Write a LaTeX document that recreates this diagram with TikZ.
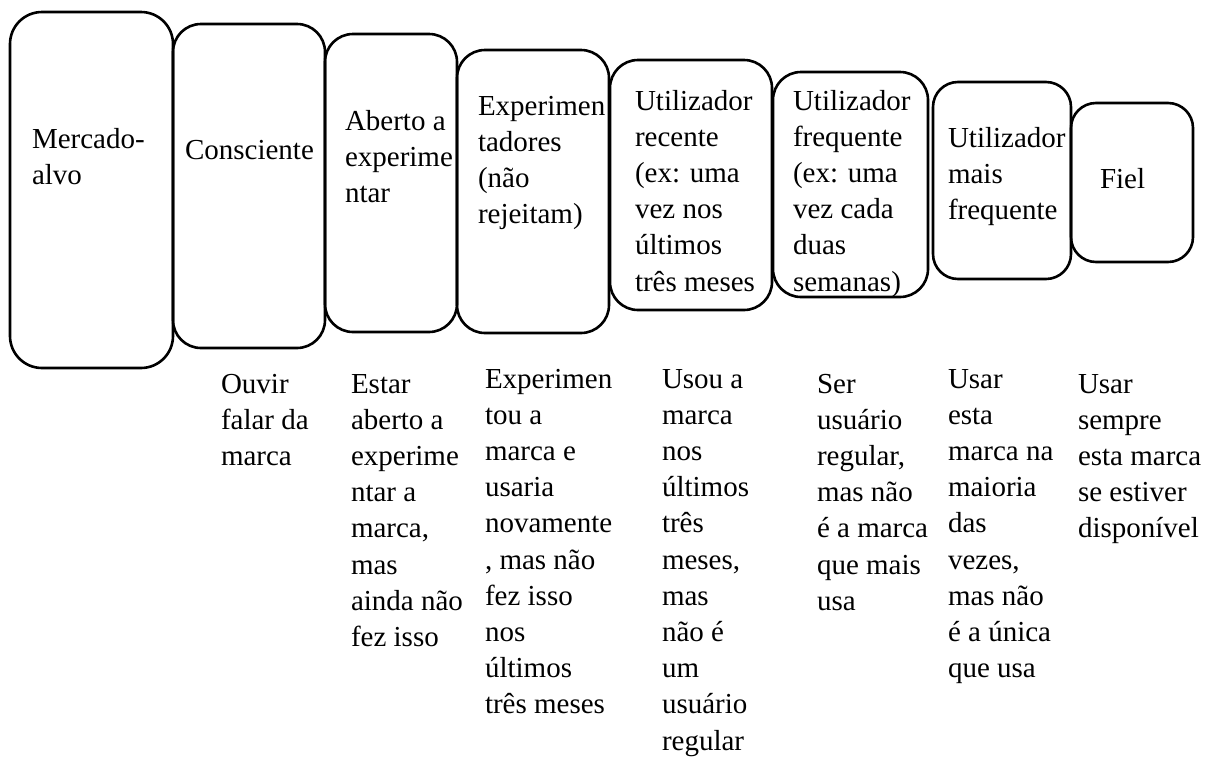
\documentclass[tikz,border=0pt]{standalone}
\usepackage{fontspec}
\setmainfont{Liberation Serif}
\begin{document}
\begin{tikzpicture}[x=1pt,y=-1pt,
  box/.style={draw=black, line width=2.6pt, rounded corners=28pt, inner sep=0pt, outer sep=0pt},
  txt/.style={anchor=base west, inner sep=0pt, outer sep=0pt, text width=220pt, align=flush left,
    font=\fontsize{29}{36.2}\selectfont}]
\useasboundingbox (0,0) rectangle (1214,758);
% boxes
\node[box, rounded corners=32pt, minimum width=163pt, minimum height=356pt] (b1) at (91.5,190) {};
\node[box, minimum width=152pt, minimum height=324pt] (b2) at (249,186) {};
\node[box, minimum width=132pt, minimum height=298pt] (b3) at (391,183) {};
\node[box, minimum width=152pt, minimum height=283pt] (b4) at (533,191.5) {};
\node[box, minimum width=162pt, minimum height=250pt] (b5) at (691,185) {};
\node[box, minimum width=155pt, minimum height=225pt] (b6) at (850.5,184.5) {};
\node[box, rounded corners=25pt, minimum width=138pt, minimum height=197pt] (b7) at (1002,180.5) {};
\node[box, rounded corners=25pt, minimum width=122pt, minimum height=159pt] (b8) at (1132,182.5) {};
% box texts
\node[txt] (t1) at (32,148) {Mercado-\\alvo};
\node[txt] (t2) at (185,159) {Consciente};
\node[txt] (t3) at (345,130) {Aberto a\\experime\\ntar};
\node[txt] (t4) at (478,115) {Experimen\\tadores\\(não\\rejeitam)};
\node[txt] (t5) at (635,110) {Utilizador\\recente\\(ex: uma\\vez nos\\últimos\\três meses};
\node[txt] (t6) at (793,110) {Utilizador\\frequente\\(ex: uma\\vez cada\\duas\\semanas)};
\node[txt] (t7) at (948,147) {Utilizador\\mais\\frequente};
\node[txt] (t8) at (1100,188) {Fiel};
% descriptions
\node[txt] (d2) at (221,393) {Ouvir\\falar da\\marca};
\node[txt] (d3) at (351,393) {Estar\\aberto a\\experime\\ntar a\\marca,\\mas\\ainda não\\fez isso};
\node[txt] (d4) at (485,388) {Experimen\\tou a\\marca e\\usaria\\novamente\\, mas não\\fez isso\\nos\\últimos\\três meses};
\node[txt] (d5) at (662,388) {Usou a\\marca\\nos\\últimos\\três\\meses,\\mas\\não é\\um\\usuário\\regular};
\node[txt] (d6) at (817,393) {Ser\\usuário\\regular,\\mas não\\é a marca\\que mais\\usa};
\node[txt] (d7) at (948,388) {Usar\\esta\\marca na\\maioria\\das\\vezes,\\mas não\\é a única\\que usa};
\node[txt] (d8) at (1078,393) {Usar\\sempre\\esta marca\\se estiver\\disponível};
\end{tikzpicture}
\end{document}
